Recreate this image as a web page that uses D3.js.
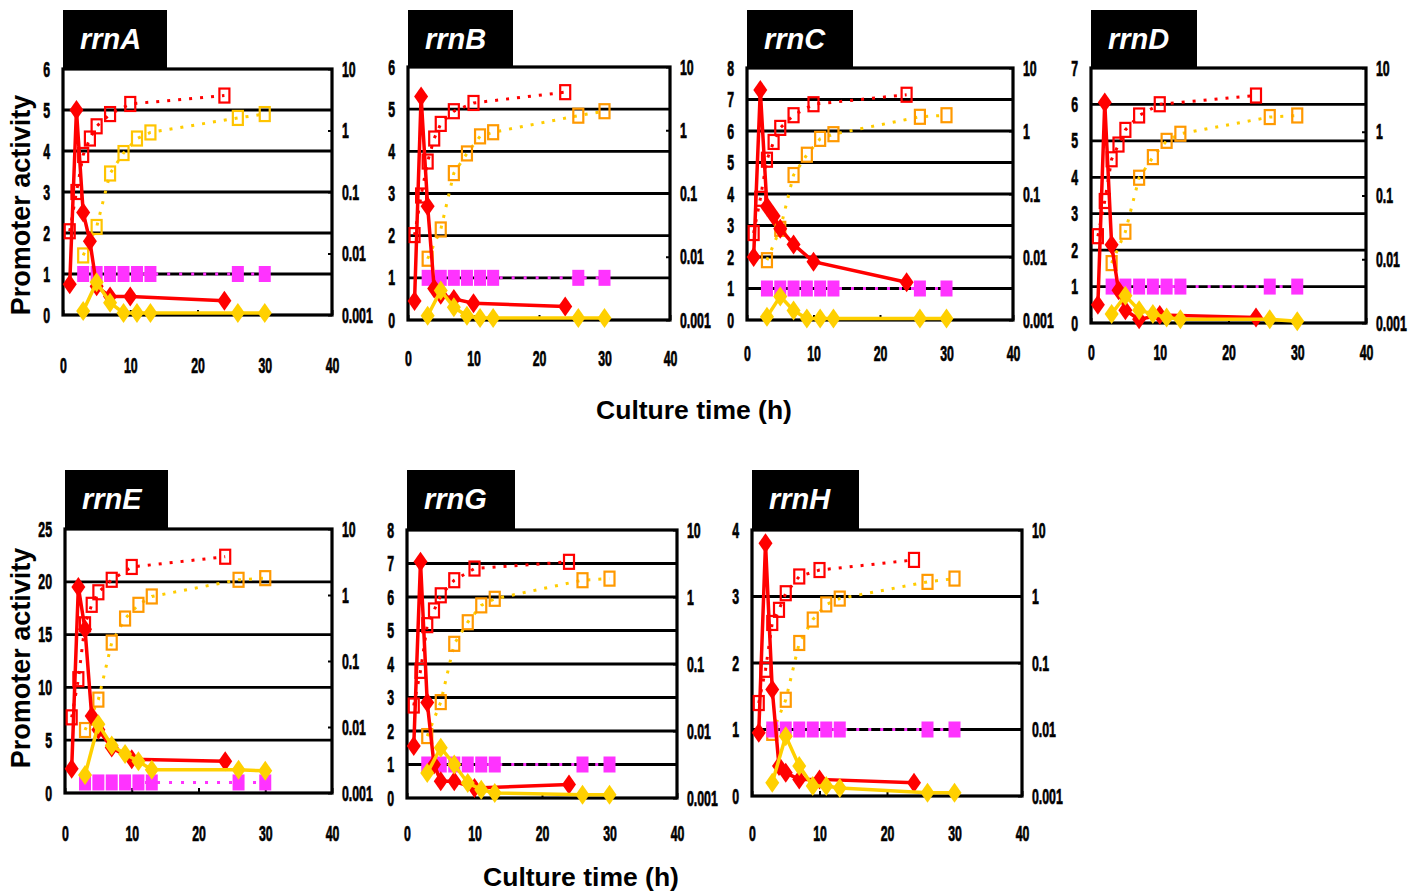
<!DOCTYPE html>
<html>
<head>
<meta charset="utf-8">
<script src="https://cdn.jsdelivr.net/npm/d3@7"></script>
<style>
    body { margin: 0; background: #fff; }
    .axis text {
        font-family: "Liberation Sans", Arial, sans-serif;
        font-weight: bold;
        font-size: 22px;
        fill: #000;
        stroke: #000;
        stroke-width: 0.7px;
    }
    .title {
        font-family: "Liberation Sans", Arial, sans-serif;
        font-weight: bold;
    }
</style>
</head>
<body>
<svg id="chart" width="1427" height="893"></svg>
<script>
// panels and their left (promoter activity) axis
var genes = ["rrnA", "rrnB", "rrnC", "rrnD", "rrnE", "rrnG", "rrnH"];
var actMax = [6, 6, 8, 7, 25, 8, 4];
var actStep = [1, 1, 1, 1, 5, 1, 1];

// sampling times (h)
var timeWT = [1, 2, 3, 4, 5, 7, 10, 24];
var timeMut = [3, 5, 7, 9, 11, 13, 26, 30];

// promoter activity, red filled diamonds
var actWT = [
    [0.75, 5.0, 2.5, 1.8, 0.7, 0.45, 0.45, 0.35],
    [0.45, 5.3, 2.7, 0.75, 0.6, 0.5, 0.4, 0.32],
    [2.0, 7.3, 3.6, 3.3, 2.9, 2.4, 1.85, 1.2],
    [0.5, 6.05, 2.15, 0.9, 0.35, 0.1, 0.22, 0.15],
    [2.3, 19.5, 15.5, 7.3, 6.0, 4.3, 3.2, 3.0],
    [1.55, 7.05, 2.85, 1.0, 0.5, 0.5, 0.3, 0.4],
    [0.95, 3.8, 1.6, 0.45, 0.35, 0.25, 0.25, 0.2]
];
// promoter activity, yellow filled diamonds
var actMut = [
    [0.1, 0.8, 0.3, 0.05, 0.05, 0.05, 0.05, 0.05],
    [0.1, 0.7, 0.3, 0.1, 0.05, 0.05, 0.05, 0.05],
    [0.1, 0.75, 0.3, 0.05, 0.05, 0.05, 0.05, 0.05],
    [0.25, 0.75, 0.35, 0.25, 0.15, 0.1, 0.1, 0.05],
    [1.7, 6.5, 4.5, 3.7, 3.0, 2.2, 2.2, 2.1],
    [0.75, 1.5, 1.0, 0.45, 0.25, 0.15, 0.1, 0.1],
    [0.2, 0.9, 0.45, 0.15, 0.15, 0.12, 0.05, 0.05]
];
// growth on the right log axis, red open squares
var odWT = [
    [0.023, 0.1, 0.4, 0.74, 1.17, 1.85, 2.7, 3.7],
    [0.022, 0.093, 0.32, 0.74, 1.26, 2.0, 2.7, 4.0],
    [0.024, 0.084, 0.35, 0.67, 1.12, 1.78, 2.66, 3.76],
    [0.023, 0.082, 0.37, 0.63, 1.07, 1.8, 2.7, 3.7],
    [0.014, 0.053, 0.36, 0.71, 1.1, 1.7, 2.66, 3.8],
    [0.024, 0.079, 0.38, 0.63, 1.06, 1.78, 2.66, 3.35],
    [0.025, 0.079, 0.4, 0.63, 1.12, 2.0, 2.5, 3.55]
];
// growth on the right log axis, orange open squares
var odMut = [
    [0.0093, 0.027, 0.2, 0.43, 0.74, 0.93, 1.6, 1.85],
    [0.0093, 0.027, 0.21, 0.43, 0.8, 0.93, 1.7, 2.0],
    [0.0089, 0.028, 0.2, 0.42, 0.75, 0.89, 1.68, 1.78],
    [0.0087, 0.027, 0.19, 0.4, 0.72, 0.93, 1.7, 1.8],
    [0.009, 0.026, 0.19, 0.44, 0.71, 0.95, 1.7, 1.8],
    [0.0084, 0.027, 0.2, 0.42, 0.75, 0.94, 1.78, 1.88],
    [0.0089, 0.028, 0.2, 0.45, 0.76, 0.93, 1.66, 1.86]
];
// control, magenta squares
var ctrl = [1, 1, 1, 1, 1, 1, 1, 1];

var timeTicks = [0, 10, 20, 30, 40];
var odTicks = [0.001, 0.01, 0.1, 1, 10];
var odLabels = ["0.001", "0.01", "0.1", "1", "10"];

// where each plot area sits on the page
var frames = [
    { x: 63, y: 69, w: 269, h: 246, lab: 50, box: 104, top: 10 },
    { x: 408, y: 67, w: 262, h: 253, lab: 38, box: 105, top: 10 },
    { x: 747, y: 68, w: 266, h: 252, lab: 33, box: 106, top: 10 },
    { x: 1091, y: 68, w: 275, h: 255, lab: 29, box: 106, top: 10 },
    { x: 65, y: 529, w: 267, h: 264, lab: 40, box: 103, top: 470 },
    { x: 407, y: 530, w: 270, h: 268, lab: 35, box: 108, top: 470 },
    { x: 752, y: 530, w: 270, h: 266, lab: 37, box: 107, top: 470 }
];
var sqColor = ["#ffc400", "#ff9900", "#ff9900", "#ff9900", "#ff9900", "#ff9900", "#ff9900"];
var squeeze = 0.56; // condensed tick labels

var svg = d3.select("#chart");

function diamond(hw, hh) {
    return "M0," + (-hh) + "L" + hw + ",0L0," + hh + "L" + (-hw) + ",0Z";
}

genes.forEach(function (gene, i) {
    var f = frames[i];

    var xScale = d3.scaleLinear().domain([0, 40]).range([0, f.w]);
    var yLeft = d3.scaleLinear().domain([0, actMax[i]]).range([f.h, 0]);
    var yRight = d3.scaleLog().domain([0.001, 10]).range([f.h, 0]);

    var chartGroup = svg.append("g")
        .attr("transform", "translate(" + f.x + "," + f.y + ")");

    // black gene label box
    chartGroup.append("rect")
        .attr("x", 0)
        .attr("y", f.top - f.y)
        .attr("width", f.box)
        .attr("height", f.y - f.top)
        .attr("fill", "#000");
    chartGroup.append("text")
        .attr("x", 17)
        .attr("y", f.top - f.y + 39)
        .attr("fill", "#fff")
        .style("font-family", "Liberation Sans, Arial, sans-serif")
        .style("font-weight", "bold")
        .style("font-style", "italic")
        .style("font-size", "29px")
        .text(gene);

    var ticks = d3.range(0, actMax[i] + 0.001, actStep[i]);

    // horizontal grid
    chartGroup.selectAll(".grid")
        .data(ticks.slice(1, -1))
        .enter().append("line")
        .attr("x1", 0)
        .attr("x2", f.w)
        .attr("y1", function (d) { return yLeft(d); })
        .attr("y2", function (d) { return yLeft(d); })
        .attr("stroke", "#000")
        .attr("stroke-width", 2.8);

    chartGroup.append("rect")
        .attr("width", f.w)
        .attr("height", f.h)
        .attr("fill", "none")
        .attr("stroke", "#000")
        .attr("stroke-width", 3.2);

    // axes
    var yAxis = d3.axisLeft(yLeft).tickValues(ticks).tickSize(0)
        .tickFormat(d3.format("d"));
    var rAxis = d3.axisRight(yRight).tickValues(odTicks).tickSize(-4)
        .tickFormat(function (d, k) { return odLabels[k]; });
    var xAxis = d3.axisBottom(xScale).tickValues(timeTicks).tickSize(-5)
        .tickPadding(f.lab - 7.5);

    var gy = chartGroup.append("g").attr("class", "axis y").call(yAxis);
    gy.selectAll("text")
        .attr("x", -13 / squeeze)
        .attr("transform", "scale(" + squeeze + ",1)");

    var gr = chartGroup.append("g").attr("class", "axis r")
        .attr("transform", "translate(" + f.w + ",0)")
        .call(rAxis);
    gr.selectAll("text")
        .attr("x", 10 / squeeze)
        .attr("transform", "scale(" + squeeze + ",1)");

    var gx = chartGroup.append("g").attr("class", "axis x")
        .attr("transform", "translate(0," + f.h + ")")
        .call(xAxis);
    gx.selectAll("text")
        .attr("transform", "scale(" + squeeze + ",1)");

    chartGroup.selectAll(".axis .domain").remove();
    chartGroup.selectAll(".axis .tick line").attr("stroke", "#000").attr("stroke-width", 2);

    // line generators
    var lineOdWT = d3.line()
        .x(function (d, k) { return xScale(timeWT[k]); })
        .y(function (d) { return yRight(d); });
    var lineOdMut = d3.line()
        .x(function (d, k) { return xScale(timeMut[k]); })
        .y(function (d) { return yRight(d); });
    var lineActWT = d3.line()
        .x(function (d, k) { return xScale(timeWT[k]); })
        .y(function (d) { return yLeft(d); });
    var lineActMut = d3.line()
        .x(function (d, k) { return xScale(timeMut[k]); })
        .y(function (d) { return yLeft(d); });

    // growth curves (dotted, open squares)
    chartGroup.append("path")
        .attr("d", lineOdWT(odWT[i]))
        .attr("fill", "none")
        .attr("stroke", "#ff0000")
        .attr("stroke-width", 3)
        .attr("stroke-dasharray", "3,8");
    chartGroup.selectAll(".sqWT")
        .data(odWT[i])
        .enter().append("rect")
        .attr("x", function (d, k) { return xScale(timeWT[k]) - 5; })
        .attr("y", function (d) { return yRight(d) - 7; })
        .attr("width", 10)
        .attr("height", 14)
        .attr("fill", "none")
        .attr("stroke", "#ff0000")
        .attr("stroke-width", 2.2);

    chartGroup.append("path")
        .attr("d", lineOdMut(odMut[i]))
        .attr("fill", "none")
        .attr("stroke", "#ffcc00")
        .attr("stroke-width", 3)
        .attr("stroke-dasharray", "3,8");
    chartGroup.selectAll(".sqMut")
        .data(odMut[i])
        .enter().append("rect")
        .attr("x", function (d, k) { return xScale(timeMut[k]) - 5; })
        .attr("y", function (d) { return yRight(d) - 7; })
        .attr("width", 10)
        .attr("height", 14)
        .attr("fill", "none")
        .attr("stroke", sqColor[i])
        .attr("stroke-width", 2.2);

    // control (magenta)
    chartGroup.append("path")
        .attr("d", lineActMut(ctrl))
        .attr("fill", "none")
        .attr("stroke", "#ff33ff")
        .attr("stroke-width", 3)
        .attr("stroke-dasharray", "3,9");
    chartGroup.selectAll(".ctrl")
        .data(ctrl)
        .enter().append("rect")
        .attr("x", function (d, k) { return xScale(timeMut[k]) - 6; })
        .attr("y", function (d) { return yLeft(d) - 8; })
        .attr("width", 12)
        .attr("height", 16)
        .attr("fill", "#ff33ff");

    // promoter activity (solid, diamonds)
    chartGroup.append("path")
        .attr("d", lineActWT(actWT[i]))
        .attr("fill", "none")
        .attr("stroke", "#ff0000")
        .attr("stroke-width", 3.5);
    chartGroup.selectAll(".dWT")
        .data(actWT[i])
        .enter().append("path")
        .attr("d", diamond(7, 10))
        .attr("transform", function (d, k) {
            return "translate(" + xScale(timeWT[k]) + "," + yLeft(d) + ")";
        })
        .attr("fill", "#ff0000");

    chartGroup.append("path")
        .attr("d", lineActMut(actMut[i]))
        .attr("fill", "none")
        .attr("stroke", "#ffd000")
        .attr("stroke-width", 3.5);
    chartGroup.selectAll(".dMut")
        .data(actMut[i])
        .enter().append("path")
        .attr("d", diamond(7, 10))
        .attr("transform", function (d, k) {
            return "translate(" + xScale(timeMut[k]) + "," + yLeft(d) + ")";
        })
        .attr("fill", "#ffd000");
});

// shared axis titles
svg.append("text").attr("class", "title")
    .attr("transform", "translate(30,205) rotate(-90)")
    .attr("text-anchor", "middle")
    .style("font-size", "27px")
    .text("Promoter activity");
svg.append("text").attr("class", "title")
    .attr("transform", "translate(30,658) rotate(-90)")
    .attr("text-anchor", "middle")
    .style("font-size", "27px")
    .text("Promoter activity");
svg.append("text").attr("class", "title")
    .attr("x", 694).attr("y", 419)
    .attr("text-anchor", "middle")
    .style("font-size", "26.5px")
    .text("Culture time (h)");
svg.append("text").attr("class", "title")
    .attr("x", 581).attr("y", 886)
    .attr("text-anchor", "middle")
    .style("font-size", "26.5px")
    .text("Culture time (h)");
</script>
</body>
</html>
